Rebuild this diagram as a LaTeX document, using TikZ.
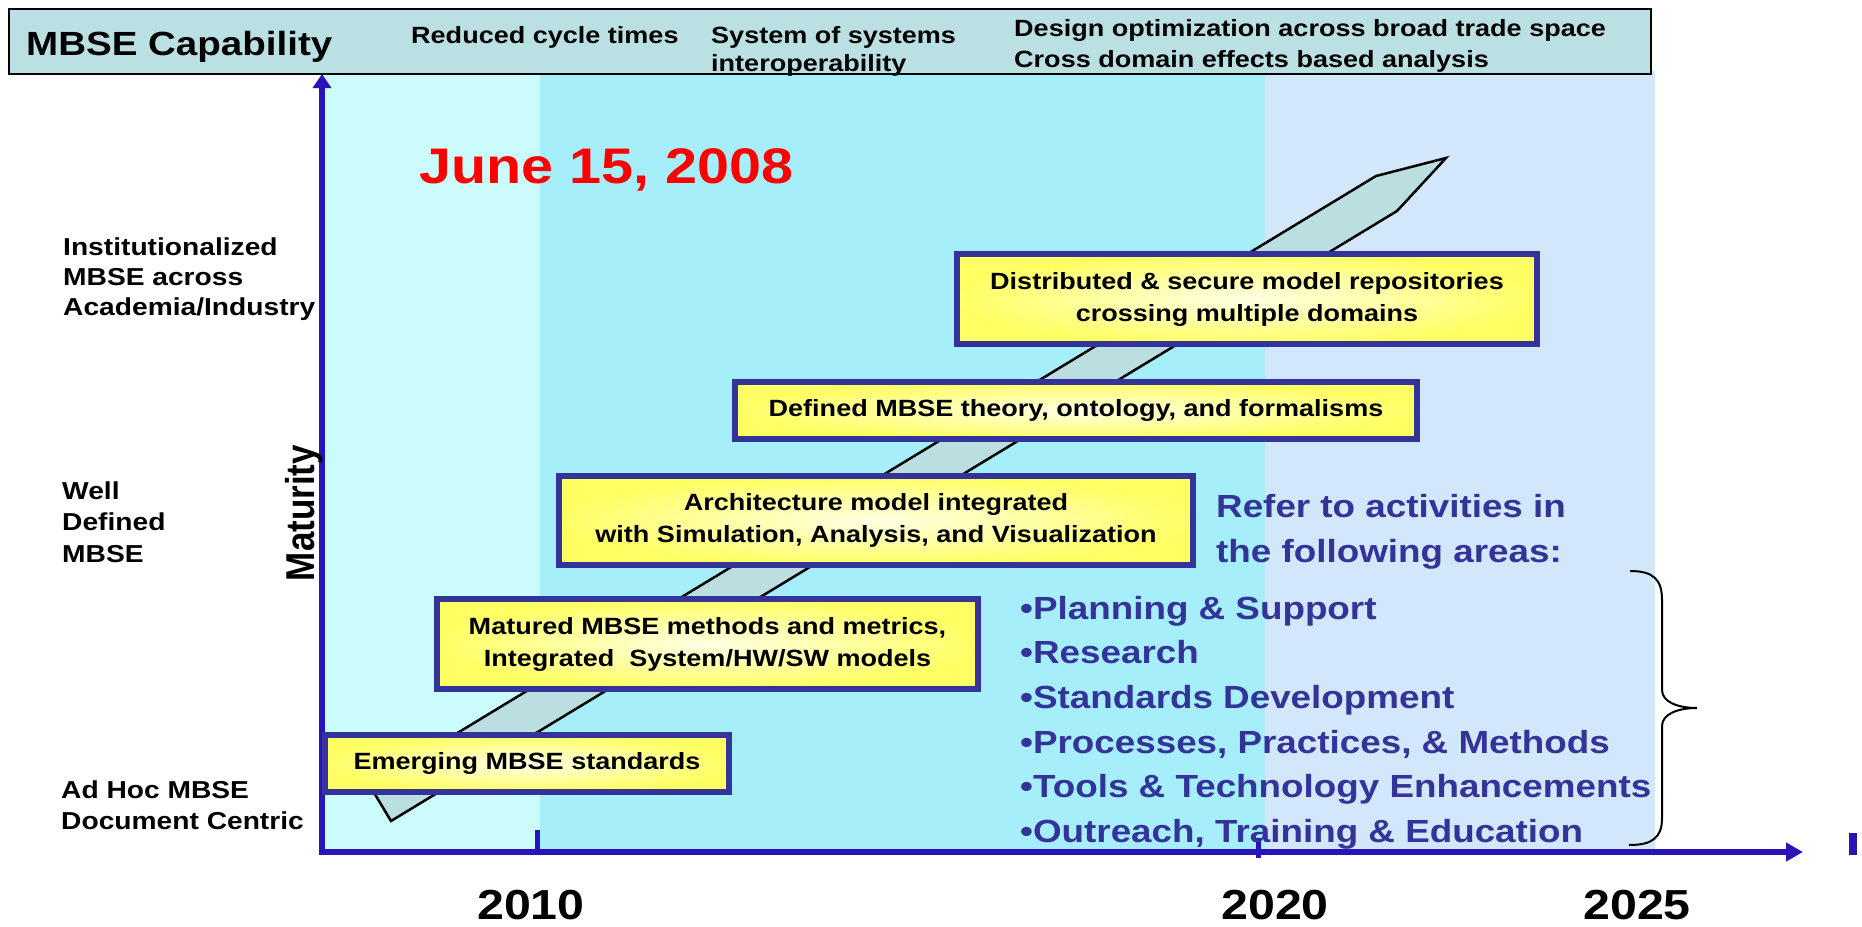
\documentclass[tikz,border=0pt]{standalone}
\usepackage{fontspec}
\setmainfont{Liberation Sans}[FakeStretch=1.15]
\newfontfamily\plainsans{Liberation Sans}
\usetikzlibrary{arrows.meta}
\definecolor{barfill}{RGB}{187,224,227}
\definecolor{regA}{RGB}{204,251,252}
\definecolor{regB}{RGB}{166,239,250}
\definecolor{regC}{RGB}{211,231,250}
\definecolor{bandfill}{RGB}{187,223,224}
\definecolor{navy}{RGB}{51,51,153}
\definecolor{axisblue}{RGB}{40,20,185}
\definecolor{yelout}{RGB}{255,255,100}
\definecolor{yelin}{RGB}{255,255,228}
\definecolor{redtxt}{RGB}{255,0,0}
\begin{document}
\begin{tikzpicture}[x=1pt,y=-1pt,
  milestone/.style={draw=navy, line width=6pt, shading=radial, inner color=yelin, outer color=yelout,
    align=center, inner sep=0pt, font=\bfseries\fontsize{23.5}{32}\selectfont},
  toptext/.style={anchor=base west, inner sep=0pt, font=\bfseries\fontsize{23.5}{28}\selectfont},
  sidetext/.style={anchor=base west, inner sep=0pt, font=\bfseries\fontsize{24.5}{30}\selectfont},
  bluetext/.style={anchor=base west, inner sep=0pt, text=navy, font=\bfseries\fontsize{32}{44.7}\selectfont},
  yeartext/.style={anchor=base, inner sep=0pt, font=\bfseries\fontsize{42}{48}\selectfont},
  axisline/.style={draw=axisblue, line width=6pt},
  tickmark/.style={fill=axisblue, draw=none}
]
\useasboundingbox (0,0) rectangle (1862,926);
\fill[white] (0,0) rectangle (1862,926);

% background eras
\fill[regA] (322,74) rectangle (540,852);
\fill[regB] (540,74) rectangle (1265,852);
\fill[regC] (1265,71) rectangle (1655,855);

% axes
\coordinate (ytop) at (322,74);
\coordinate (ybottom) at (322,855);
\coordinate (xend) at (1803,852);
\coordinate (xstart) at (319,852);
\draw[axisline, -{Triangle[length=14pt,width=18pt]}] (ybottom) -- (ytop);
\draw[axisline, -{Triangle[length=17pt,width=18pt]}] (xstart) -- (xend);
\fill[tickmark] (534.5,830) rectangle (539.5,852);
\fill[tickmark] (1255.5,838) rectangle (1260.5,858);
\fill[tickmark] (1849,833) rectangle (1857,855);

% maturity band
\draw[fill=bandfill, draw=black, line width=2.5pt, line join=miter]
  (391,821) -- (1397,211) -- (1446,158) -- (1376,176) -- (370,786) -- cycle;

% milestone boxes
\node[milestone, minimum width=404pt, minimum height=57pt] (m1) at (527,763.5) {Emerging MBSE standards};
\node[milestone, minimum width=541pt, minimum height=90pt] (m2) at (707.5,644) {Matured MBSE methods and metrics,\\Integrated\ \ System/HW/SW models};
\node[milestone, minimum width=634pt, minimum height=89pt] (m3) at (876,520.5) {Architecture model integrated\\with Simulation, Analysis, and Visualization};
\node[milestone, minimum width=682pt, minimum height=57pt] (m4) at (1076,410.5) {Defined MBSE theory, ontology, and formalisms};
\node[milestone, minimum width=580pt, minimum height=90pt] (m5) at (1247,299) {Distributed \& secure model repositories\\crossing multiple domains};

% top capability bar
\draw[fill=barfill, draw=black, line width=2.5pt] (9,9) rectangle (1651,74);
\node[anchor=base west, inner sep=0pt, font=\bfseries\fontsize{33.5}{38}\selectfont] (cap) at (26,55) {MBSE Capability};
\node[toptext] (t1) at (411,43) {Reduced cycle times};
\node[toptext] (t2) at (711,43) {\begin{tabular}[t]{@{}l@{}}System of systems\\interoperability\end{tabular}};
\node[toptext, font=\bfseries\fontsize{23.5}{31}\selectfont] (t3) at (1014,36) {\begin{tabular}[t]{@{}l@{}}Design optimization across broad trade space\\Cross domain effects based analysis\end{tabular}};

% date
\node[anchor=base west, inner sep=0pt, text=redtxt, font=\bfseries\fontsize{50}{56}\selectfont] (date) at (419,183) {June 15, 2008};

% maturity levels
\node[sidetext] (l1) at (63,255) {\begin{tabular}[t]{@{}l@{}}Institutionalized\\MBSE across\\Academia/Industry\end{tabular}};
\node[sidetext, font=\bfseries\fontsize{24.5}{31.5}\selectfont] (l2) at (62,499) {\begin{tabular}[t]{@{}l@{}}Well\\Defined\\MBSE\end{tabular}};
\node[sidetext, font=\bfseries\fontsize{24.5}{31}\selectfont] (l3) at (61,798) {\begin{tabular}[t]{@{}l@{}}Ad Hoc MBSE\\Document Centric\end{tabular}};
\node[rotate=90, yscale=1.15, anchor=base, inner sep=0pt, font=\plainsans\bfseries\fontsize{35}{40}\selectfont] (mat) at (314,513) {Maturity};

% years
\node[yeartext] (y1) at (531,919) {2010};
\node[yeartext] (y2) at (1275,919) {2020};
\node[yeartext] (y3) at (1637,919) {2025};

% activities
\node[bluetext, font=\bfseries\fontsize{32}{45}\selectfont] (refer) at (1216,517) {\begin{tabular}[t]{@{}l@{}}Refer to activities in\\the following areas:\end{tabular}};
\node[bluetext] (areas) at (1020,619) {\begin{tabular}[t]{@{}l@{}}\textbullet Planning \& Support\\\textbullet Research\\\textbullet Standards Development\\\textbullet Processes, Practices, \& Methods\\\textbullet Tools \& Technology Enhancements\\\textbullet Outreach, Training \& Education\end{tabular}};

% brace
\draw[black, line width=2pt] (1630,571) .. controls (1654,571) and (1662,580) .. (1662,600)
  -- (1662,690) .. controls (1662,702) and (1678,708) .. (1697,708)
  .. controls (1678,708) and (1662,714) .. (1662,726)
  -- (1662,818) .. controls (1662,838) and (1652,845) .. (1629,845);
\end{tikzpicture}
\end{document}
